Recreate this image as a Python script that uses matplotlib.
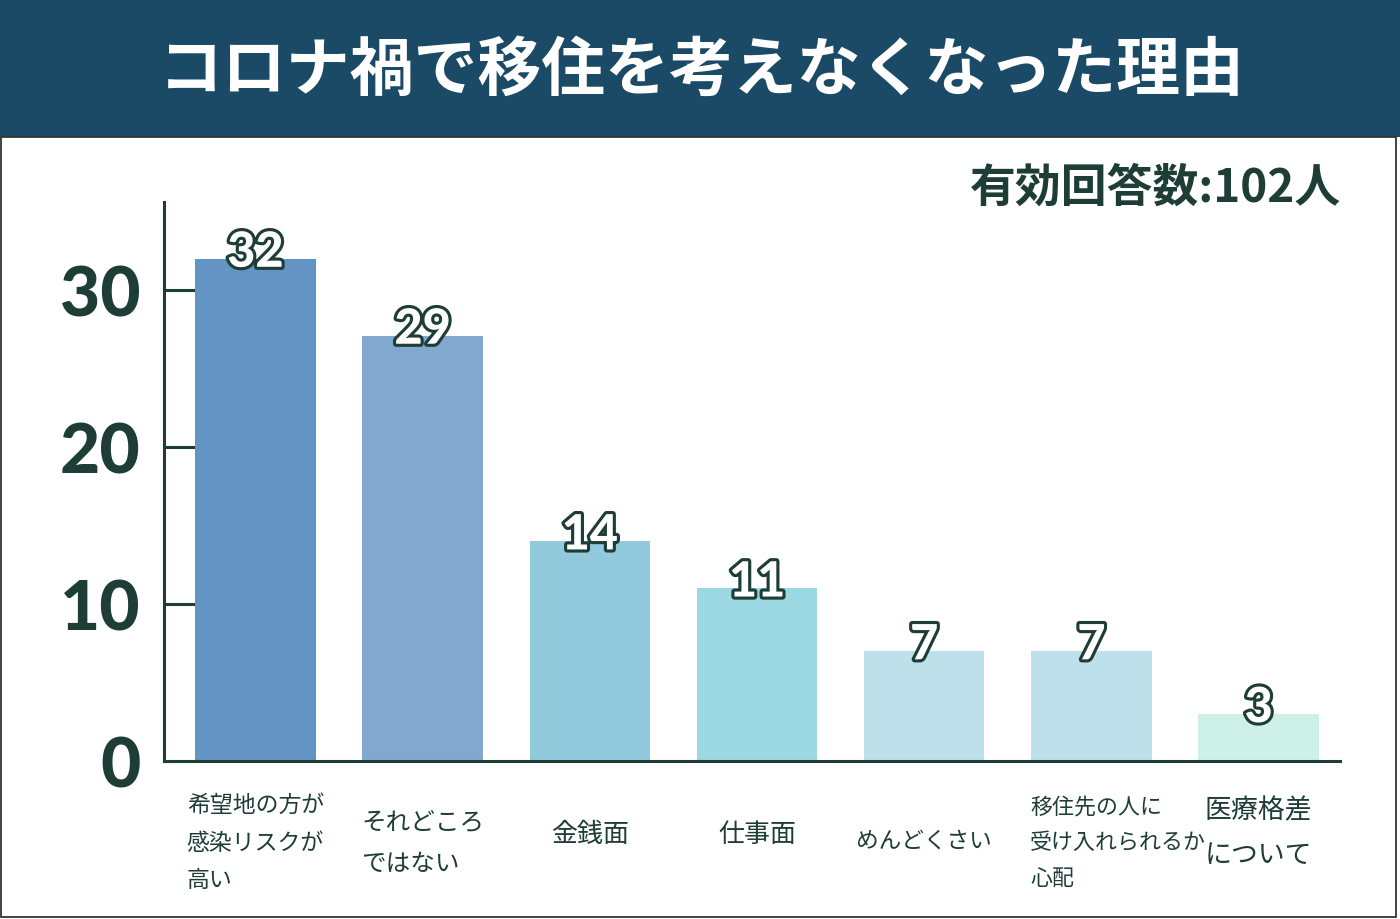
import matplotlib.pyplot as plt
import matplotlib.patheffects as pe
from matplotlib.patches import Rectangle

plt.rcParams['font.family'] = ['Noto Sans CJK JP', 'DejaVu Sans']

# データ
categories = ['希望地の方が\n感染リスクが\n高い', 'それどころ\nではない', '金銭面', '仕事面',
              'めんどくさい', '移住先の人に\n受け入れられるか\n心配', '医療格差\nについて']
heights = [32, 27.1, 14, 11, 7, 7, 3]          # 棒の高さ
value_labels = ['32', '29', '14', '11', '7', '7', '3']
colors = ['#6394c3', '#82a8cd', '#92c9dd', '#9bd8e1', '#bde0ea', '#bde0ea', '#cdf0e8']
yticks = [0, 10, 20, 30]

# ラベルごとの文字サイズと位置ずれ（元画像に合わせる）
cat_sizes = [16.5, 17.7, 18.7, 18.7, 16.3, 15.8, 19.4]
cat_y = [-0.145, -0.145, -0.13, -0.13, -0.142, -0.145, -0.127]
cat_dx = [0, 0, 0, 0, 0, 0.16, 0]

dark = '#1e3d36'
navy = '#1b4a67'

fig = plt.figure(figsize=(14, 9.2), dpi=100)

# タイトル帯
fig.patches.append(Rectangle((0, 0.85), 1, 0.15, transform=fig.transFigure,
                             facecolor=navy, edgecolor='none', zorder=0))
fig.patches.append(Rectangle((0.0007, 0.002), 0.9965, 0.848, transform=fig.transFigure,
                             facecolor='none', edgecolor='#333333', linewidth=1.3, zorder=0))
fig.text(0.501, 0.923, 'コロナ禍で移住を考えなくなった理由', color='white',
         fontsize=46, fontweight='bold', ha='center', va='center')
fig.text(0.958, 0.795, '有効回答数:102人', color=dark,
         fontsize=33, fontweight='bold', ha='right', va='center')

ax = fig.add_axes([0.1171, 0.1717, 0.84, 0.6076])
x = list(range(len(heights)))
ax.bar(x, heights, width=0.72, color=colors, zorder=3)

ax.set_xlim(-0.547, 6.486)
ax.set_ylim(0, 35.6)
ax.set_yticks(yticks)
ax.set_yticklabels([str(t) for t in yticks], fontsize=50, fontweight='black',
                   family='Lato', color=dark)
ax.tick_params(axis='y', direction='in', length=22, width=2.2, color=dark, pad=17)
ax.set_xticks([])

for s in ['top', 'right']:
    ax.spines[s].set_visible(False)
for s in ['left', 'bottom']:
    ax.spines[s].set_color(dark)
    ax.spines[s].set_linewidth(2.2)
    ax.spines[s].set_zorder(4)

for xi, h, lab in zip(x, heights, value_labels):
    ax.text(xi, h + 0.4, lab, ha='center', va='center', fontsize=35, fontweight='black',
            family='Lato', color='white', zorder=5,
            path_effects=[pe.withStroke(linewidth=4.5, foreground=dark)])

for xi, cat, fs, cy, dx in zip(x, categories, cat_sizes, cat_y, cat_dx):
    ax.text(xi + dx, cy, cat, transform=ax.get_xaxis_transform(), ha='center', va='center',
            multialignment='left', fontsize=fs, color=dark, linespacing=1.8)

fig.savefig('out.png', dpi=100)
